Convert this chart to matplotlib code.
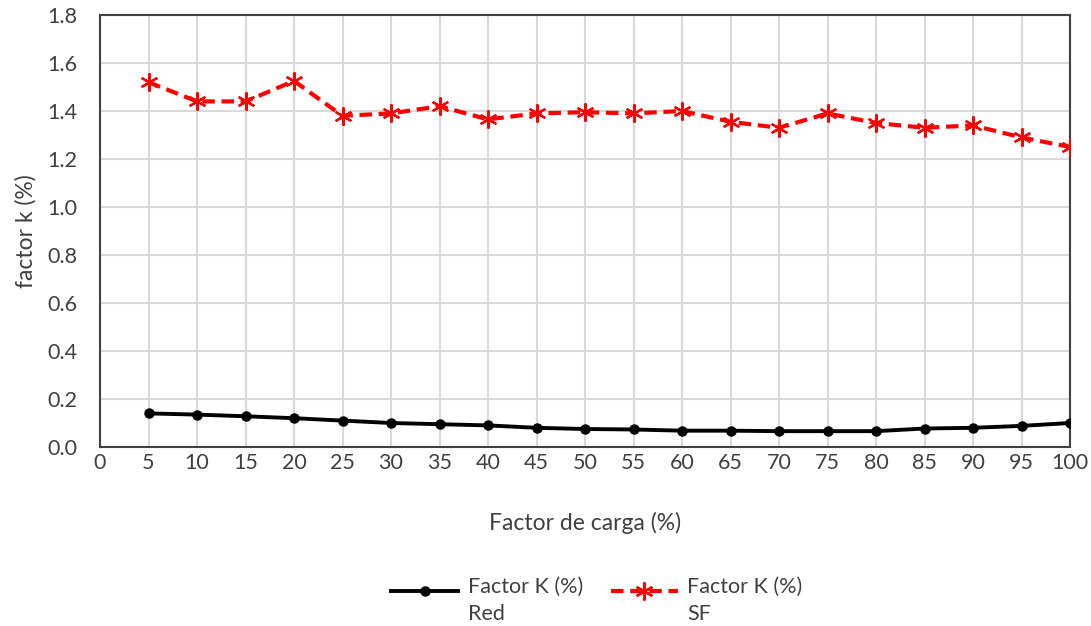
import matplotlib.pyplot as plt

plt.rcParams['font.family'] = ['Lato', 'DejaVu Sans']

carga = [5, 10, 15, 20, 25, 30, 35, 40, 45, 50, 55, 60, 65, 70, 75, 80, 85, 90, 95, 100]
k_red = [0.14, 0.135, 0.128, 0.12, 0.11, 0.10, 0.095, 0.09, 0.08, 0.075,
         0.073, 0.068, 0.068, 0.066, 0.066, 0.066, 0.077, 0.08, 0.088, 0.10]
k_sf = [1.52, 1.44, 1.44, 1.525, 1.38, 1.39, 1.42, 1.365, 1.39, 1.395,
        1.39, 1.40, 1.355, 1.33, 1.39, 1.35, 1.33, 1.34, 1.29, 1.25]

fig = plt.figure(figsize=(10.91, 6.26), dpi=100)
ax = fig.add_axes([100/1091, 179/626, 970/1091, 432/626])

ax.plot(carga, k_red, color='black', lw=2.8, marker='o', ms=6.5,
        label='Factor K (%)\nRed', zorder=3)
ax.plot(carga, k_sf, color='#ff0000', lw=3, ls=(0, (3, 1.6)), marker=(6, 2, 0), ms=13,
        mew=1.6, label='Factor K (%)\nSF', zorder=3)

ax.set_xlim(0, 100)
ax.set_ylim(0, 1.8)
ax.set_xticks(range(0, 101, 5))
ax.set_yticks([i * 0.2 for i in range(10)])
ax.set_yticklabels([f'{i * 0.2:.1f}' for i in range(10)])
ax.grid(color='#d9d9d9', lw=1.5)
ax.set_axisbelow(True)
for s in ax.spines.values():
    s.set_color('#404040')
    s.set_linewidth(1.5)
ax.tick_params(length=0, labelsize=15.5, colors='#404040')
ax.tick_params(axis='y', pad=16)
ax.tick_params(axis='x', pad=4)

ax.set_xlabel('Factor de carga (%)', fontsize=16.5, color='#404040', labelpad=28)
ax.set_ylabel('factor k (%)', fontsize=16.5, color='#404040', labelpad=8)

# handleheight lifts the line up to the first line of each two-line label
leg = fig.legend(loc='center', bbox_to_anchor=(597/1091, 1 - 603/626), ncol=2,
                 frameon=False, fontsize=15.5, handlelength=3.1, handletextpad=0.45,
                 handleheight=4.0, columnspacing=1.3, labelcolor='#404040')
for t in leg.get_texts():
    t.set_linespacing(1.45)

fig.savefig('out.png')
